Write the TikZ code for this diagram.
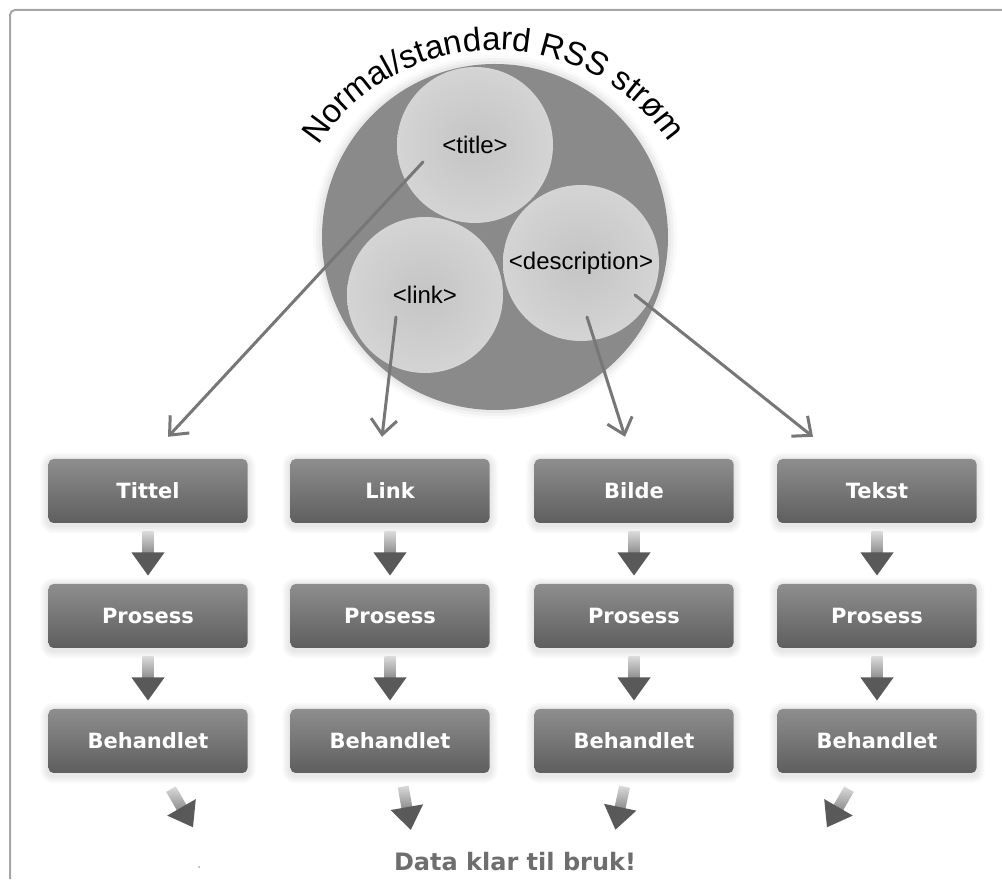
\documentclass[tikz,border=0pt]{standalone}
\usepackage{fontspec}
\setmainfont{Liberation Sans}
\newfontfamily\boxfont{DejaVu Sans}
\usetikzlibrary{arrows.meta,calc,decorations.text}

\definecolor{framecol}{HTML}{A6A6A6}
\definecolor{bigcol}{HTML}{8A8A8A}
\definecolor{ballin}{HTML}{C4C4C4}
\definecolor{ballout}{HTML}{E4E4E4}
\definecolor{pointer}{HTML}{777777}
\definecolor{boxtop}{HTML}{8E8E8E}
\definecolor{boxbot}{HTML}{5E5E5E}
\definecolor{stemtop}{HTML}{DADADA}
\definecolor{stembot}{HTML}{8C8C8C}
\definecolor{headcol}{HTML}{595959}
\definecolor{donecol}{HTML}{6E6E6E}

\pgfdeclareradialshading{ball}{\pgfpointorigin}{color(0bp)=(ballin); color(50bp)=(ballout); color(52bp)=(ballout)}
\pgfdeclarelayer{bg}
\pgfsetlayers{bg,main}

\newcommand\arcfont{\fontsize{33}{38}\selectfont}

\begin{document}
\begin{tikzpicture}[x=1pt,y=1pt,
  stepbox/.style={rounded corners=5pt, minimum width=199pt, minimum height=64pt,
    inner sep=0pt, top color=boxtop, bottom color=boxbot, text=white,
    font=\boxfont\bfseries\fontsize{21}{25}\selectfont},
  ball/.style={circle, minimum size=156pt, inner sep=0pt, shading=ball,
    font=\fontsize{24}{27}\selectfont},
  ptr/.style={draw=pointer, line width=3pt, line cap=round,
    -{Straight Barb[length=15pt,width=26pt,line width=3pt]}},
  flowarrow/.pic={
    \shade[top color=stemtop, bottom color=stembot] (-5.5,22) rectangle (5.5,0);
    \fill[headcol] (-16.5,1) -- (16.5,1) -- (0,-22) -- cycle;
  }
]
\useasboundingbox (0,0) rectangle (1002,879);

% page frame
\draw[framecol, line width=2pt, rounded corners=5pt] (10,0) -- (10,869) -- (1002,869);

% feed circle with its three elements
\node[circle, fill=bigcol, minimum size=346pt, inner sep=0pt] (big) at (495,642) {};
\begin{pgfonlayer}{bg}
  \foreach \d/\o in {9/0.02,6/0.03,3/0.04}
    \fill[black, opacity=\o] (big.center) circle[radius=173+\d];
\end{pgfonlayer}
\node[ball] (ctitle) at (475,734) {<title>};
\node[ball] (clink)  at (425,584) {<link>};
\node[ball] (cdesc)  at (581,616) {<description>};

% caption along the circle
\coordinate (arcc) at ($(big.center)+(0,-24)$);
\path[decorate, decoration={text along path, text align=center,
    text={|\arcfont|Normal/standard RSS strøm}}]
  (arcc) ++(160.5:211) arc[start angle=160.5, end angle=20.5, radius=211];

% processing columns
\foreach \n/\x/\t in {1/148/Tittel, 2/390/Link, 3/634/Bilde, 4/877/Tekst}{
  \node[stepbox] (t\n) at (\x,388) {\t};
  \node[stepbox] (p\n) at (\x,263) {Prosess};
  \node[stepbox] (b\n) at (\x,138) {Behandlet};
  \begin{pgfonlayer}{bg}
    \foreach \nd in {t\n,p\n,b\n}
      \foreach \d in {2,4,6,8}
        \fill[black, opacity=0.025, rounded corners=5pt+\d]
          ($(\nd.south west)+(-\d,-\d-2)$) rectangle ($(\nd.north east)+(\d,\d-2)$);
  \end{pgfonlayer}
  \pic at ($(t\n.south)!0.5!(p\n.north)$) {flowarrow};
  \pic at ($(p\n.south)!0.5!(b\n.north)$) {flowarrow};
}

% connectors from the feed elements to the columns
\coordinate (s1) at ($(ctitle.center)+(-52,-17)$);
\coordinate (s2) at ($(clink.center)+(-29,-22)$);
\coordinate (s3) at ($(cdesc.center)+(6,-54)$);
\coordinate (s4) at ($(cdesc.center)+(54,-32)$);
\coordinate (e1) at ($(t1.north)+(20,22)$);
\coordinate (e2) at ($(t2.north)+(-8,22)$);
\coordinate (e3) at ($(t3.north)+(-9,22)$);
\coordinate (e4) at ($(t4.north)+(-64,22)$);
\draw[ptr] (s1) -- (e1);
\draw[ptr] (s2) -- (e2);
\draw[ptr] (s3) -- (e3);
\draw[ptr] (s4) -- (e4);

% outputs converging on the result
\pic[rotate=30]  at ($(b1.south)+(34,-35)$)  {flowarrow};
\pic[rotate=10]  at ($(b2.south)+(17,-35)$)  {flowarrow};
\pic[rotate=-12] at ($(b3.south)+(-14,-35)$) {flowarrow};
\pic[rotate=-30] at ($(b4.south)+(-39,-35)$) {flowarrow};

\node[text=donecol, font=\boxfont\bfseries\fontsize{24}{28}\selectfont] (done) at (515,17) {Data klar til bruk!};
\fill[gray!70] (199,12) circle[radius=1];
\end{tikzpicture}
\end{document}
